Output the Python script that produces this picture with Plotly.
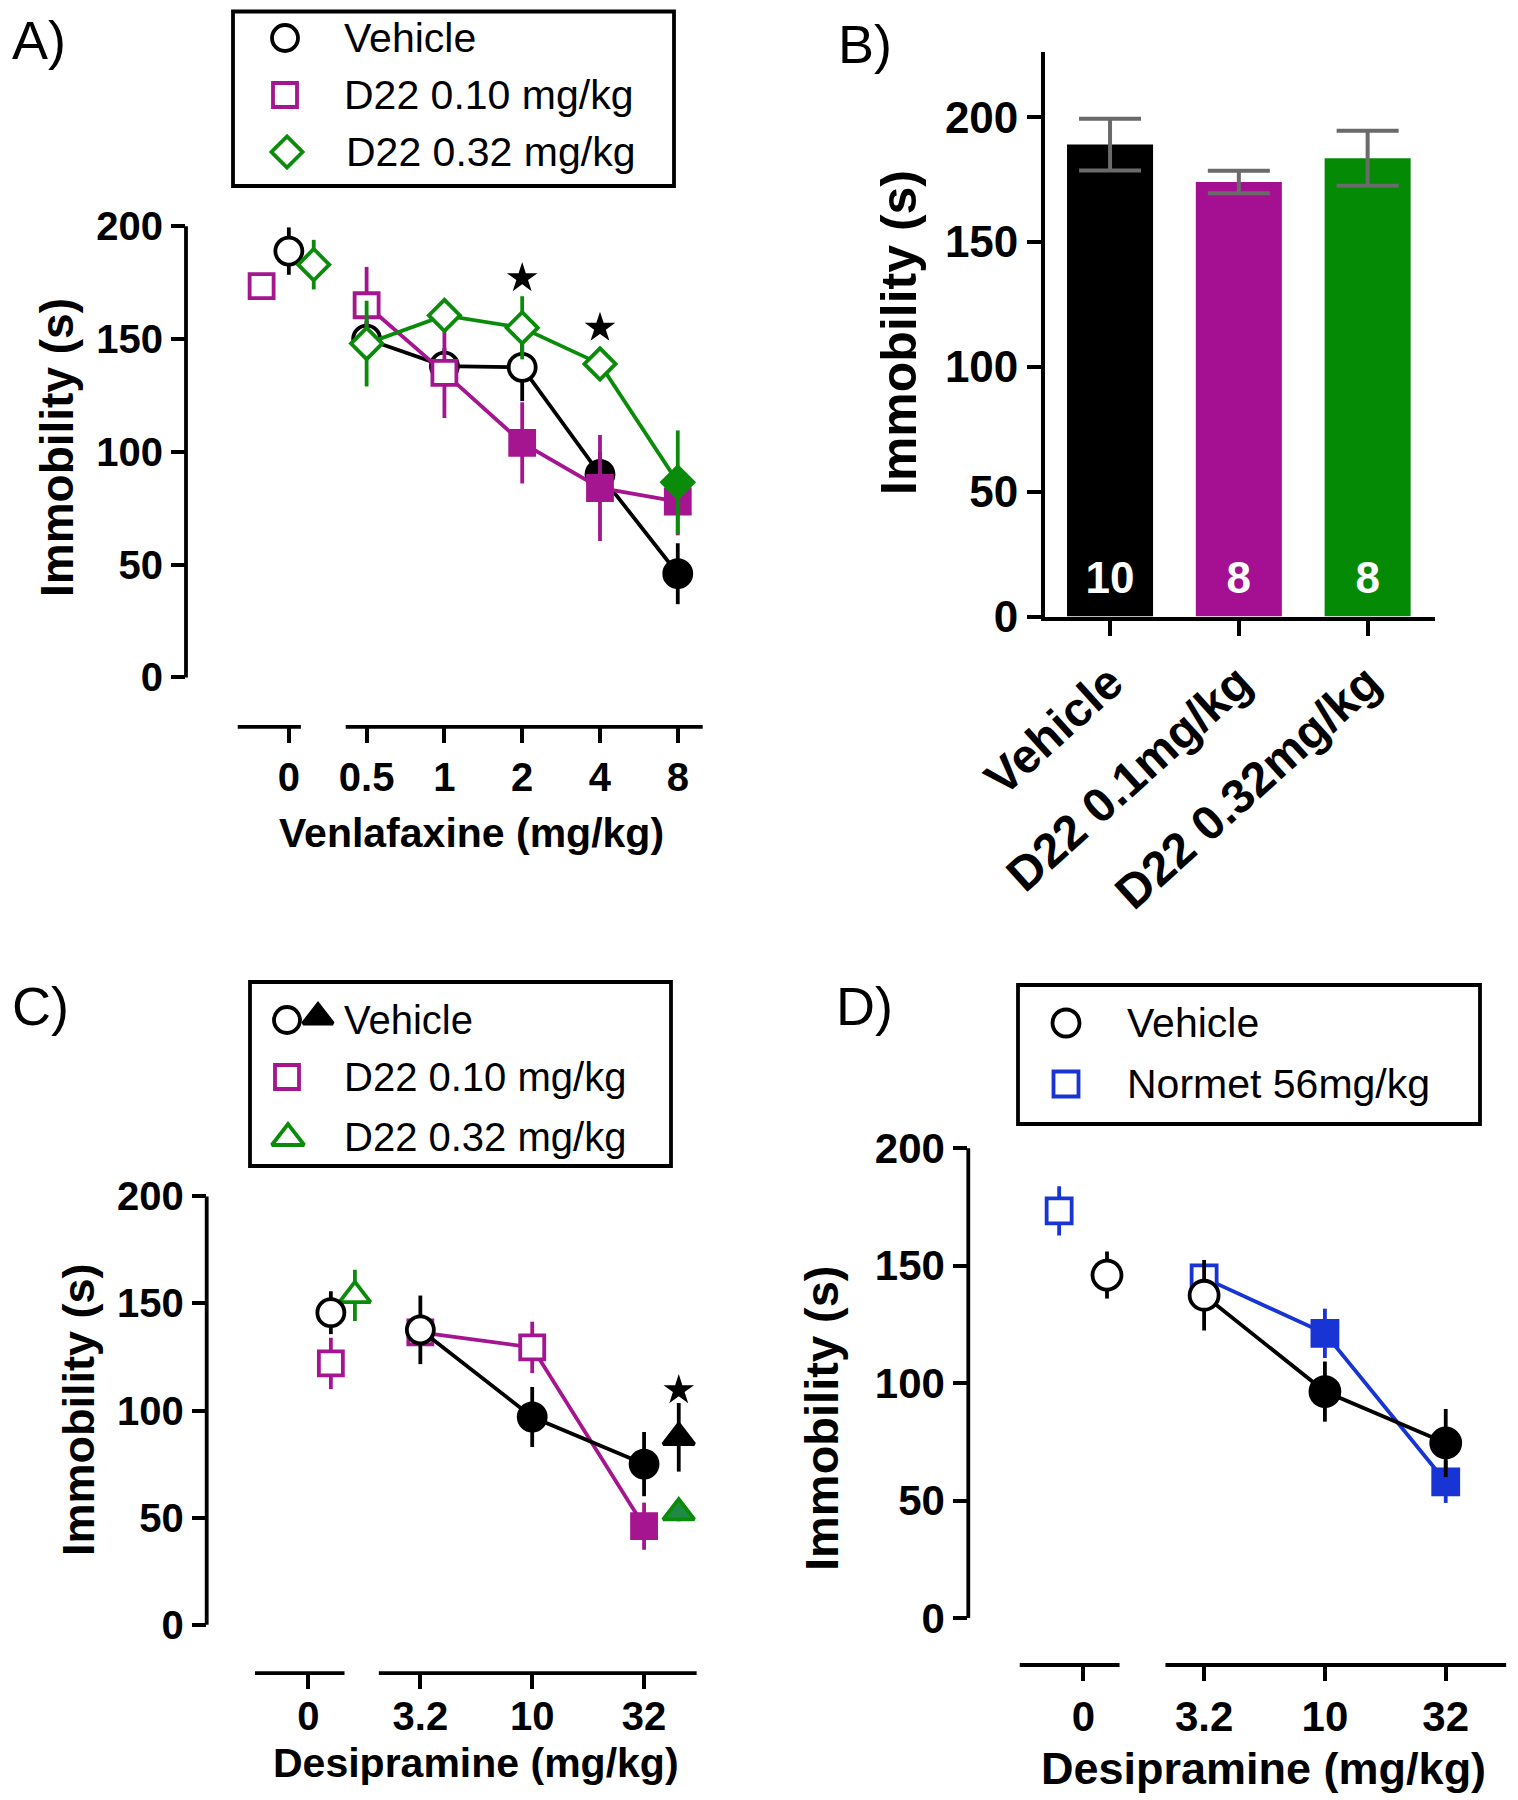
import plotly.graph_objects as go

# page size and the browser's default body margin (figure is offset by it)
PAGE_W, PAGE_H = 1518, 1800
OFF = 8
W, H = PAGE_W - OFF, PAGE_H - OFF

# ---------------- data ----------------
# Panel A (Venlafaxine)
venla_labels = ["0", "0.5", "1", "2", "4", "8"]
A_veh_mean = [189, 150, 138, 137.5, 90, 46]
A_veh_sem = [10.5, 8, 8, 15, 10, 13.5]
A_veh_filled = [False, False, False, False, True, True]
A_d10_mean = [173.5, 165, 135, 104, 84, 78]
A_d10_sem = [4, 17, 20, 18, 23.5, 15]
A_d10_filled = [False, False, False, True, True, True]
A_d32_mean = [183, 148, 160.5, 155, 139, 86.5]
A_d32_sem = [11, 19, 5, 14, 5, 23]
A_d32_filled = [False, False, False, False, False, True]
A_star_idx = [3, 4]
A_star_y = [177, 155]

# Panel B (bars)
B_groups = ["Vehicle", "D22 0.1mg/kg", "D22 0.32mg/kg"]
B_mean = [189, 174, 183.5]
B_sem = [10.4, 4.5, 11]
B_n = ["10", "8", "8"]

# Panel C (Desipramine + D22)
desi_labels = ["0", "3.2", "10", "32"]
C_veh_mean = [145.7, 137.7, 97, 75]
C_veh_sem = [10, 16, 14, 15]
C_veh_filled = [False, False, True, True]
C_vehtri_mean = [87.5]
C_vehtri_sem = [16]
C_d10_mean = [122, 136.5, 129.5, 46]
C_d10_sem = [12, 5, 12, 11]
C_d10_filled = [False, False, False, True]
C_d32_mean = [153.8, 52.3]
C_d32_sem = [12, 4]
C_d32_filled = [False, True]
C_star_y = [109.5]

# Panel D (Desipramine + Normet)
D_veh_mean = [146, 137.4, 96.4, 74.5]
D_veh_sem = [10, 15, 12.8, 14.5]
D_veh_filled = [False, False, True, True]
D_nor_mean = [173.3, 144.8, 121.2, 58]
D_nor_sem = [10.5, 5, 10.5, 9]
D_nor_filled = [False, False, True, True]

# ---------------- style ----------------
BLACK = "#000000"
MAG = "#A5158F"
GRN = "#0A8C0A"
BLUE = "#1834D4"
BAR_COLORS = ["#000000", "#A50F92", "#058A05"]
FAM = "Liberation Sans, Arial, sans-serif"
LW = 3.8


def fills(flags, c):
    return [c if f else "white" for f in flags]


def dom_x(x0, x1):
    return [(x0 - OFF) / W, (x1 - OFF) / W]


def dom_y(top, bot):
    return [1 - (bot - OFF) / H, 1 - (top - OFF) / H]


fig = go.Figure()


def pts(xa, ya, x, y, sem, color, symbol, size, fill, mode="markers", lw=LW):
    fig.add_trace(go.Scatter(
        x=x, y=y, xaxis=xa, yaxis=ya, mode=mode, cliponaxis=False,
        line=dict(color=color, width=lw),
        marker=dict(symbol=symbol, size=size, color=fill, line=dict(color=color, width=lw)),
        error_y=dict(type="data", array=sem, visible=True, color=color, thickness=LW, width=0),
        showlegend=False, hoverinfo="skip"))


# ---------------- Panel A ----------------
kA = list(range(len(venla_labels)))
pts("x", "y", [kA[0]], A_veh_mean[:1], A_veh_sem[:1], BLACK, "circle", 27,
    fills(A_veh_filled, BLACK)[:1])
pts("x", "y", kA[1:], A_veh_mean[1:], A_veh_sem[1:], BLACK, "circle", 27,
    fills(A_veh_filled, BLACK)[1:], mode="lines+markers")
pts("x", "y", [kA[0] - 0.35], A_d10_mean[:1], A_d10_sem[:1], MAG, "square", 24,
    fills(A_d10_filled, MAG)[:1])
pts("x", "y", kA[1:], A_d10_mean[1:], A_d10_sem[1:], MAG, "square", 24,
    fills(A_d10_filled, MAG)[1:], mode="lines+markers")
pts("x", "y", [kA[0] + 0.32], A_d32_mean[:1], A_d32_sem[:1], GRN, "diamond", 24,
    fills(A_d32_filled, GRN)[:1])
pts("x", "y", kA[1:], A_d32_mean[1:], A_d32_sem[1:], GRN, "diamond", 24,
    fills(A_d32_filled, GRN)[1:], mode="lines+markers")
fig.add_trace(go.Scatter(x=A_star_idx, y=A_star_y, xaxis="x", yaxis="y", mode="markers",
                         marker=dict(symbol="star", size=23, color=BLACK),
                         showlegend=False, hoverinfo="skip", cliponaxis=False))

# ---------------- Panel B ----------------
kB = list(range(len(B_groups)))
fig.add_trace(go.Bar(
    x=kB, y=B_mean, xaxis="x2", yaxis="y2", width=0.668,
    marker=dict(color=BAR_COLORS, line=dict(width=0)),
    error_y=dict(type="data", array=B_sem, visible=True, color="#6A6A6A", thickness=4, width=31),
    showlegend=False, hoverinfo="skip"))
fig.add_trace(go.Scatter(
    x=kB, y=[14] * len(kB), xaxis="x2", yaxis="y2", mode="text", text=B_n,
    textfont=dict(family=FAM, size=44, color="white", weight="bold"),
    showlegend=False, hoverinfo="skip"))

# ---------------- Panel C ----------------
kC = list(range(len(desi_labels)))
pts("x3", "y3", [kC[0] + 0.2], C_d10_mean[:1], C_d10_sem[:1], MAG, "square", 24,
    fills(C_d10_filled, MAG)[:1])
pts("x3", "y3", kC[1:], C_d10_mean[1:], C_d10_sem[1:], MAG, "square", 24,
    fills(C_d10_filled, MAG)[1:], mode="lines+markers")
pts("x3", "y3", [kC[0] + 0.415, kC[-1] + 0.31], C_d32_mean, C_d32_sem, GRN, "triangle-up", 27,
    fills(C_d32_filled, "#1E8A45"))
pts("x3", "y3", [kC[0] + 0.2], C_veh_mean[:1], C_veh_sem[:1], BLACK, "circle", 27,
    fills(C_veh_filled, BLACK)[:1])
pts("x3", "y3", kC[1:], C_veh_mean[1:], C_veh_sem[1:], BLACK, "circle", 27,
    fills(C_veh_filled, BLACK)[1:], mode="lines+markers")
pts("x3", "y3", [kC[-1] + 0.31], C_vehtri_mean, C_vehtri_sem, BLACK, "triangle-up", 27, [BLACK])
fig.add_trace(go.Scatter(x=[kC[-1] + 0.31], y=C_star_y, xaxis="x3", yaxis="y3", mode="markers",
                         marker=dict(symbol="star", size=23, color=BLACK),
                         showlegend=False, hoverinfo="skip", cliponaxis=False))

# ---------------- Panel D ----------------
kD = list(range(len(desi_labels)))
pts("x4", "y4", [kD[0] - 0.2], D_nor_mean[:1], D_nor_sem[:1], BLUE, "square", 25,
    fills(D_nor_filled, BLUE)[:1])
pts("x4", "y4", kD[1:], D_nor_mean[1:], D_nor_sem[1:], BLUE, "square", 25,
    fills(D_nor_filled, BLUE)[1:], mode="lines+markers")
pts("x4", "y4", [kD[0] + 0.196], D_veh_mean[:1], D_veh_sem[:1], BLACK, "circle", 29,
    fills(D_veh_filled, BLACK)[:1])
pts("x4", "y4", kD[1:], D_veh_mean[1:], D_veh_sem[1:], BLACK, "circle", 29,
    fills(D_veh_filled, BLACK)[1:], mode="lines+markers")


# ---------------- legends (page-pixel overlay) ----------------
def leg_sym(x, y, symbol, color, size, fill="white"):
    fig.add_trace(go.Scatter(x=[x], y=[y], xaxis="x5", yaxis="y5", mode="markers",
                             marker=dict(symbol=symbol, size=size, color=fill,
                                         line=dict(color=color, width=LW)),
                             showlegend=False, hoverinfo="skip", cliponaxis=False))


leg_sym(285, 38, "circle", BLACK, 26)
leg_sym(285, 95, "square", MAG, 24)
leg_sym(287, 152, "diamond", GRN, 24)
leg_sym(287, 1020, "circle", BLACK, 26)
leg_sym(318, 1017, "triangle-up", BLACK, 26, BLACK)
leg_sym(287, 1077, "square", MAG, 24)
leg_sym(288, 1138, "triangle-up", GRN, 28)
leg_sym(1066, 1023, "circle", BLACK, 27)
leg_sym(1066, 1084, "square", BLUE, 25)

shapes = []
annotations = []


def box(x0, y0, x1, y1):
    shapes.append(dict(type="rect", xref="x5", yref="y5", x0=x0, y0=y0, x1=x1, y1=y1,
                       line=dict(color=BLACK, width=LW), fillcolor="rgba(0,0,0,0)"))


def txt(x, y, s, size, bold=False, xanchor="left", angle=0):
    annotations.append(dict(xref="x5", yref="y5", x=x, y=y, text=s, showarrow=False,
                            xanchor=xanchor, yanchor="middle", textangle=angle,
                            font=dict(family=FAM, size=size, color=BLACK,
                                      weight="bold" if bold else "normal")))


box(233, 11.5, 674, 186)
box(250, 982, 671, 1166)
box(1018, 985, 1480, 1124)

txt(342, 38, "Vehicle", 41)
txt(342, 95, "D22 0.10 mg/kg", 41)
txt(344, 152, "D22 0.32 mg/kg", 41)
txt(342, 1020, "Vehicle", 40)
txt(342, 1077, "D22 0.10 mg/kg", 40)
txt(342, 1137, "D22 0.32 mg/kg", 40)
txt(1125, 1023, "Vehicle", 41)
txt(1125, 1084, "Normet 56mg/kg", 41)

# panel labels
txt(10, 40, "A)", 54)
txt(836, 44, "B)", 54)
txt(10, 1006, "C)", 54)
txt(834, 1006, "D)", 54)

# axis titles
txt(57, 448, "Immobility (s)", 46, True, "center", -90)
txt(471, 833, "Venlafaxine (mg/kg)", 41, True, "center")
txt(899, 333, "Immobility (s)", 50, True, "center", -90)
txt(78, 1410, "Immobility (s)", 45, True, "center", -90)
txt(476, 1763, "Desipramine (mg/kg)", 41, True, "center")
txt(821, 1418, "Immobility (s)", 47, True, "center", -90)
txt(1263, 1768, "Desipramine (mg/kg)", 45, True, "center")


# broken x axis segments and y spines
def seg(xa, ya, k0, k1):
    shapes.append(dict(type="line", xref=xa, yref=ya + " domain", x0=k0, x1=k1, y0=0, y1=0,
                       line=dict(color=BLACK, width=LW)))


def spine(xa, ya):
    shapes.append(dict(type="line", xref=xa + " domain", yref=ya, x0=0, x1=0, y0=0, y1=200,
                       line=dict(color=BLACK, width=LW)))


seg("x", "y", -0.657, 0.155)
seg("x", "y", 0.731, 5.32)
seg("x3", "y3", -0.478, 0.322)
seg("x3", "y3", 0.629, 3.47)
seg("x4", "y4", -0.526, 0.30)
seg("x4", "y4", 0.68, 3.5)
spine("x", "y")
spine("x3", "y3")
spine("x4", "y4")


def tick_font(s):
    return dict(family=FAM, size=s, color=BLACK, weight="bold")


yt = [0, 50, 100, 150, 200]


def xax(dom, rng, vals, labels, anchor, fs, standoff=0):
    return dict(domain=dom, range=rng, anchor=anchor, showline=False, showgrid=False,
                zeroline=False, ticks="outside", ticklen=15, tickwidth=LW, tickcolor=BLACK,
                tickvals=vals, ticktext=labels, tickfont=tick_font(fs), fixedrange=True,
                automargin=False, ticklabelstandoff=standoff)


def yax(dom, rng, anchor, fs, line=False):
    return dict(domain=dom, range=rng, anchor=anchor, showline=line, linewidth=LW,
                linecolor=BLACK, showgrid=False, zeroline=False, ticks="outside",
                ticklen=14, tickwidth=LW, tickcolor=BLACK, tickvals=yt,
                tickfont=tick_font(fs), fixedrange=True, automargin=False)


fig.update_layout(
    width=W, height=H, margin=dict(l=0, r=0, t=0, b=0, pad=0, autoexpand=False),
    paper_bgcolor="white", plot_bgcolor="rgba(0,0,0,0)", showlegend=False,
    xaxis=xax(dom_x(186, 712), [-1.322, 5.44], kA, venla_labels, "y", 40),
    yaxis=yax(dom_y(215, 726.9), [-21.9, 205.0], "x", 40),
    xaxis2=dict(domain=dom_x(1045, 1435), range=[-0.505, 2.523], anchor="y2", showline=True,
                linewidth=LW, linecolor=BLACK, showgrid=False, zeroline=False, ticks="outside",
                ticklen=15, tickwidth=LW, tickcolor=BLACK, tickvals=kB, ticktext=B_groups,
                tickangle=-42, tickfont=tick_font(48), fixedrange=True, automargin=False),
    yaxis2=yax(dom_y(51.7, 616.6), [0, 226.2], "x2", 44, line=True),
    xaxis3=xax(dom_x(206.7, 700), [-0.91, 3.5], kC, desi_labels, "y3", 40, standoff=-7),
    yaxis3=yax(dom_y(1190, 1673.1), [-22.6, 203.0], "x3", 40),
    xaxis4=xax(dom_x(968.3, 1510), [-0.952, 3.532], kD, desi_labels, "y4", 42),
    yaxis4=yax(dom_y(1140, 1665), [-20.0, 203.5], "x4", 42),
    xaxis5=dict(domain=[0, 1], range=[OFF, OFF + W], anchor="y5", visible=False,
                fixedrange=True, automargin=False),
    yaxis5=dict(domain=[0, 1], range=[OFF + H, OFF], anchor="x5", visible=False,
                fixedrange=True, automargin=False),
    shapes=shapes, annotations=annotations,
)

fig.write_html("out.html")
